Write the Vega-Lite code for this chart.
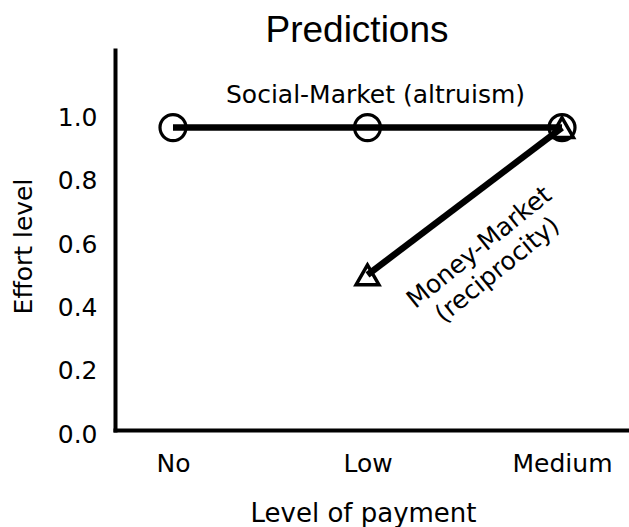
{
  "$schema": "https://vega.github.io/schema/vega-lite/v6.json",
  "width": 514,
  "height": 380,
  "autosize": {"type": "none"},
  "padding": {"left": 115, "top": 50, "right": 0, "bottom": 97},
  "background": "white",
  "config": {"view": {"stroke": null}, "font": "DejaVu Sans"},
  "title": {
    "text": "Predictions",
    "font": "Liberation Sans",
    "fontSize": 37,
    "fontWeight": "normal",
    "color": "black",
    "anchor": "middle",
    "frame": "group",
    "baseline": "alphabetic",
    "dx": -15,
    "dy": 37,
    "offset": 8
  },
  "data": {
    "values": [
      {"payment": "No", "effort": 0.955, "series": "Social-Market"},
      {"payment": "Low", "effort": 0.955, "series": "Social-Market"},
      {"payment": "Medium", "effort": 0.955, "series": "Social-Market"},
      {"payment": "Low", "effort": 0.49, "series": "Money-Market"},
      {"payment": "Medium", "effort": 0.955, "series": "Money-Market"}
    ]
  },
  "encoding": {
    "x": {
      "field": "payment",
      "type": "ordinal",
      "sort": ["No", "Low", "Medium"],
      "scale": {"type": "point", "padding": 0.3213, "align": 0.464},
      "axis": {
        "title": "Level of payment",
        "grid": false,
        "ticks": false,
        "tickSize": 0,
        "domainColor": "black",
        "domainWidth": 4,
        "domainCap": "square",
        "labelAngle": 0,
        "labelFont": "DejaVu Sans",
        "labelFontSize": 25,
        "labelColor": "black",
        "labelPadding": 21,
        "titleFont": "DejaVu Sans",
        "titleFontSize": 26,
        "titleFontWeight": "normal",
        "titleColor": "black",
        "titleX": 248,
        "titleY": 91,
        "titleAlign": "center",
        "titleBaseline": "alphabetic"
      }
    },
    "y": {
      "field": "effort",
      "type": "quantitative",
      "scale": {"domain": [0, 1.2], "nice": false, "zero": true},
      "axis": {
        "title": "Effort level",
        "values": [0, 0.2, 0.4, 0.6, 0.8, 1.0],
        "format": ".1f",
        "grid": false,
        "ticks": false,
        "tickSize": 0,
        "domainColor": "black",
        "domainWidth": 4,
        "domainCap": "square",
        "labelFont": "DejaVu Sans",
        "labelFontSize": 25,
        "labelColor": "black",
        "labelPadding": 18,
        "labelOffset": 4,
        "titleFont": "DejaVu Sans",
        "titleFontSize": 25,
        "titleFontWeight": "normal",
        "titleColor": "black",
        "titleAngle": -90,
        "titleX": -92,
        "titleY": 196,
        "titleAlign": "center",
        "titleBaseline": "middle"
      }
    }
  },
  "layer": [
    {
      "mark": {"type": "line", "color": "black", "strokeWidth": 6.5},
      "encoding": {"detail": {"field": "series"}}
    },
    {
      "transform": [{"filter": "datum.series === 'Social-Market'"}],
      "mark": {"type": "point", "shape": "circle", "filled": false, "size": 676, "stroke": "black", "strokeWidth": 3.2, "opacity": 1}
    },
    {
      "transform": [{"filter": "datum.series === 'Money-Market'"}],
      "mark": {"type": "point", "shape": "triangle-up", "filled": false, "size": 520, "stroke": "black", "strokeWidth": 3.5, "opacity": 1}
    },
    {
      "data": {"values": [{"payment": "Low", "effort": 1.033, "note": "Social-Market (altruism)"}]},
      "mark": {"type": "text", "font": "DejaVu Sans", "fontSize": 25, "color": "black", "align": "center", "baseline": "alphabetic", "dx": 8},
      "encoding": {"text": {"field": "note"}}
    },
    {
      "data": {"values": [{"payment": "Medium", "effort": 0.72, "note": ["Money-Market", "(reciprocity)"]}]},
      "mark": {"type": "text", "font": "DejaVu Sans", "fontSize": 25, "color": "black", "align": "center", "baseline": "middle", "angle": -39, "dx": -93, "dy": -17, "lineHeight": 29},
      "encoding": {"text": {"field": "note"}}
    }
  ]
}
